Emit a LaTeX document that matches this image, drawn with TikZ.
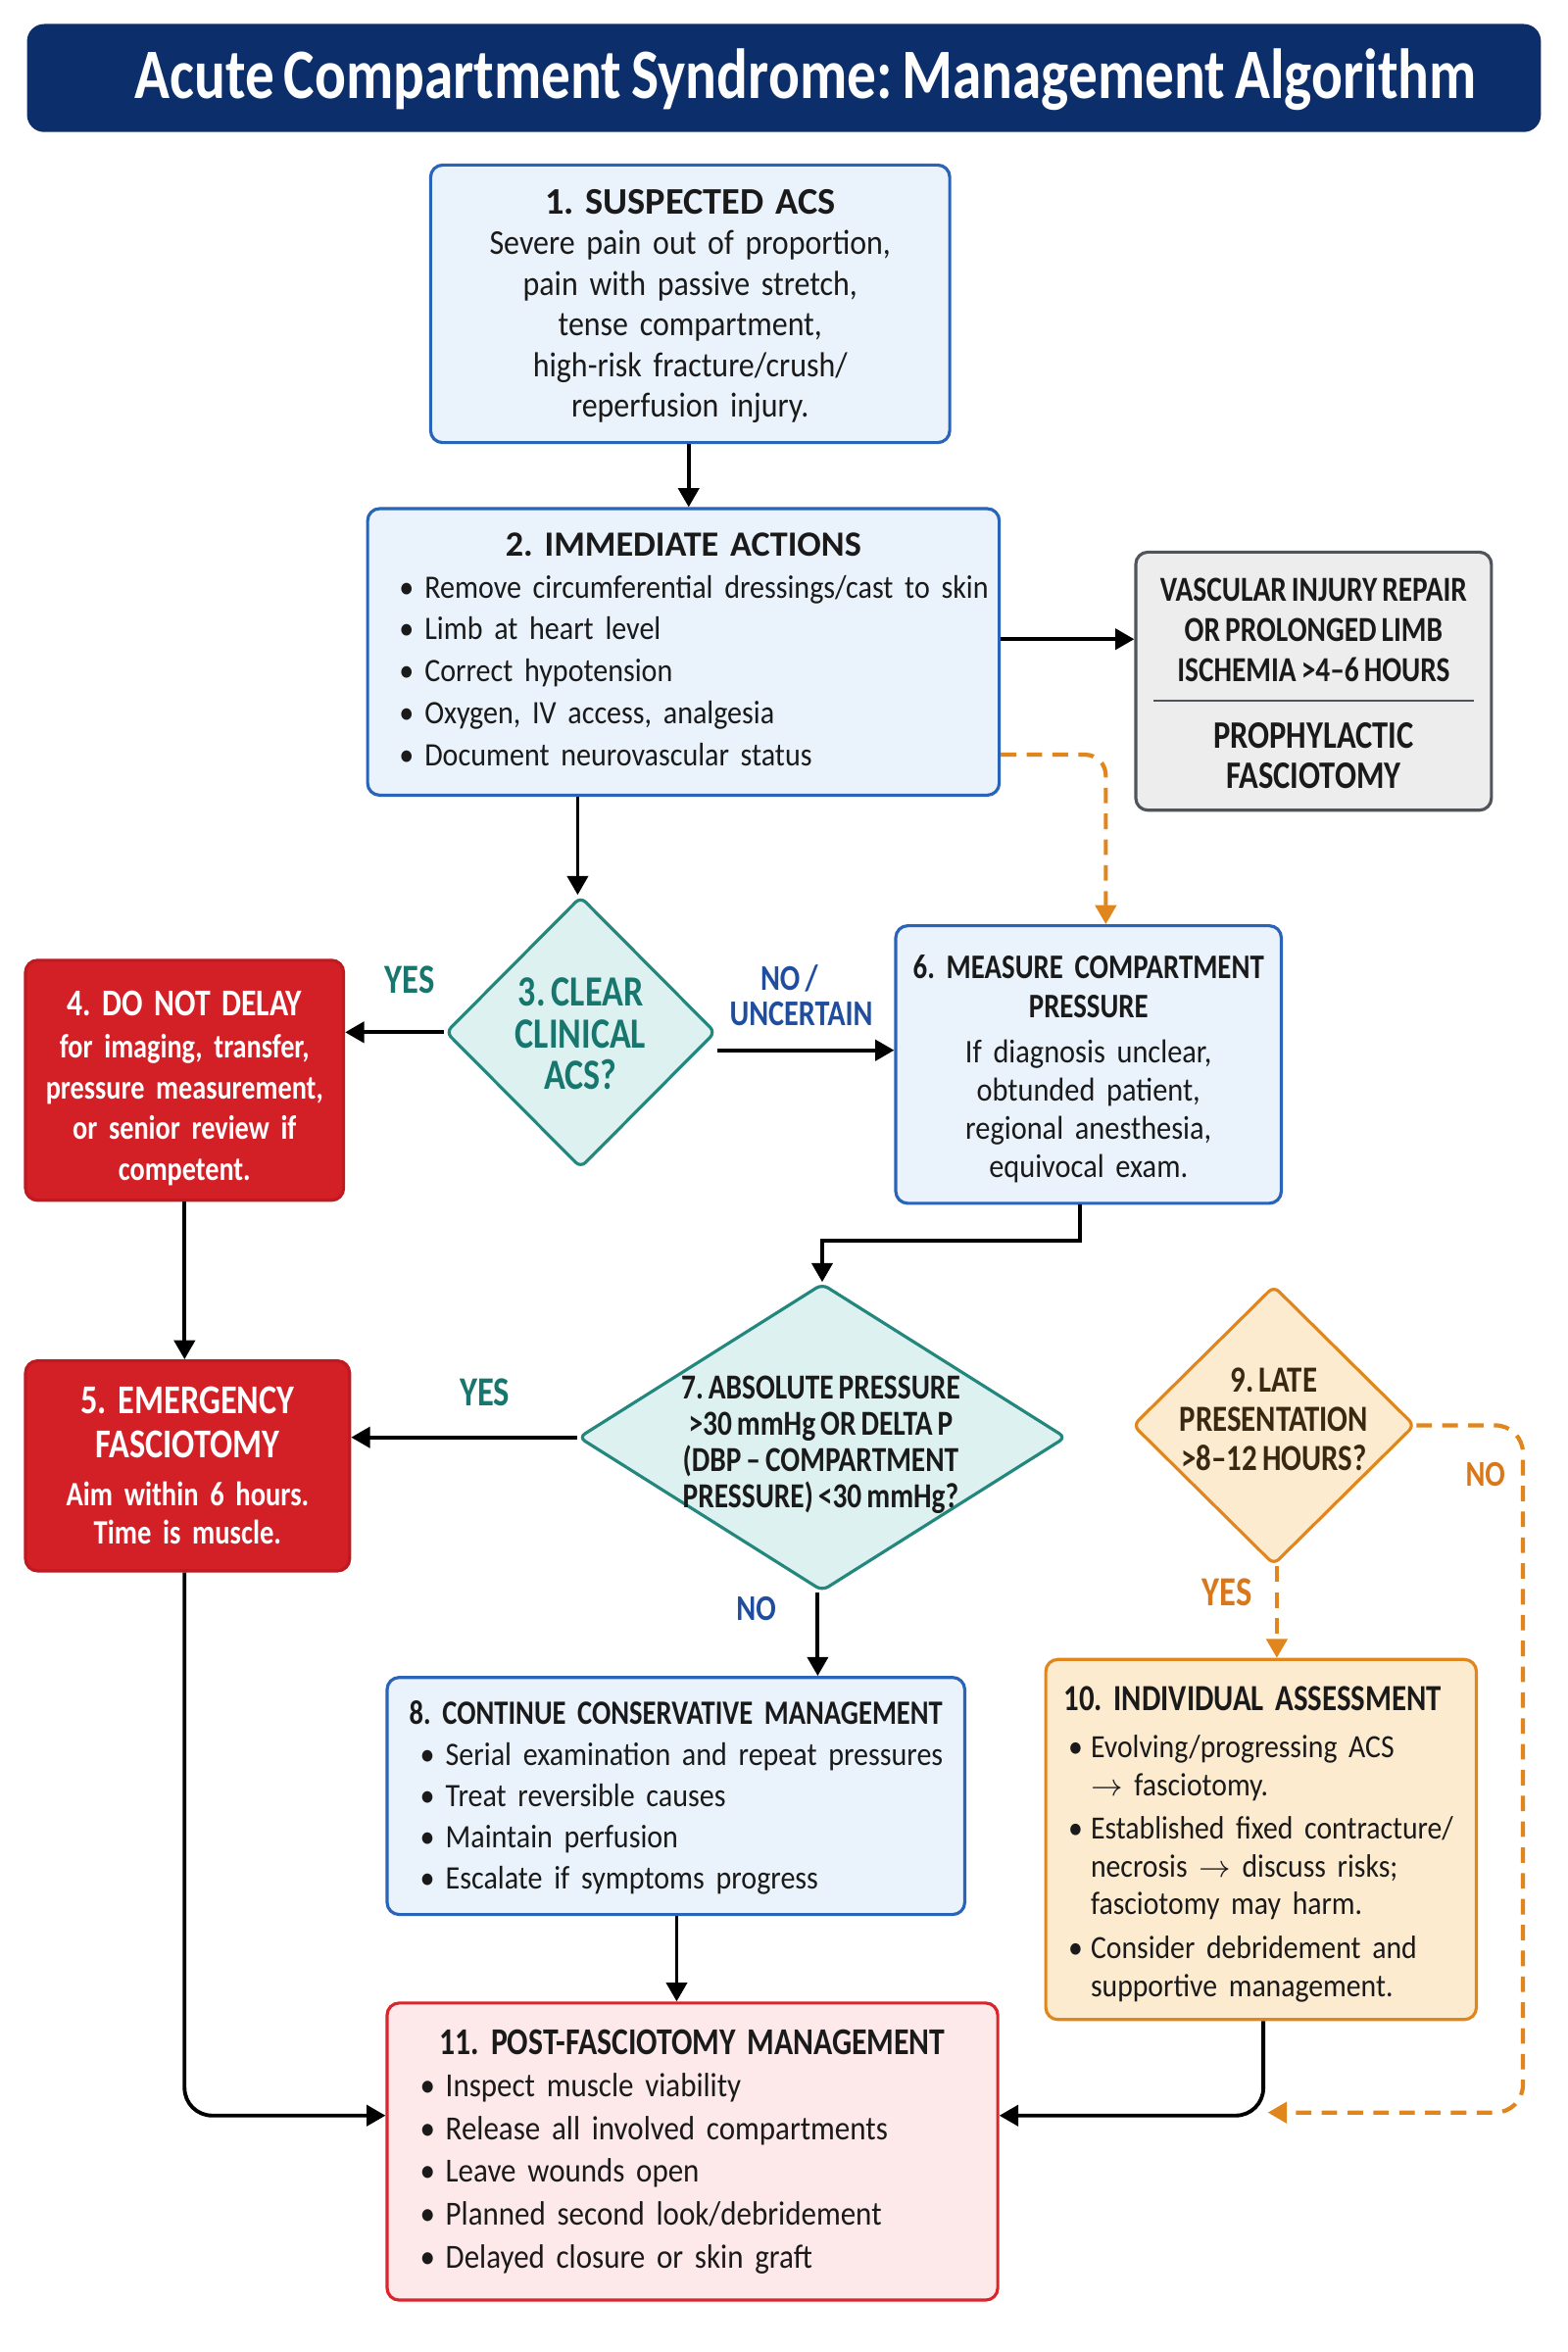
\documentclass[tikz,border=0pt]{standalone}
\usepackage{fontspec}
\setmainfont{Carlito}[FakeStretch=0.9, WordSpace=0.68]
\newfontfamily\hdfont{Carlito}[FakeStretch=0.82, WordSpace=0.75]
\newfontfamily\hdwfont{Carlito}[WordSpace=0.85]
\usetikzlibrary{arrows.meta,shapes.geometric,calc}
\newlength\dpx \setlength\dpx{0.4357pt}
\definecolor{navy}{HTML}{0C2F6B}
\definecolor{bluebd}{HTML}{2A64B8}
\definecolor{bluefill}{HTML}{EAF2FB}
\definecolor{tealbd}{HTML}{24877E}
\definecolor{tealfill}{HTML}{DDF2F0}
\definecolor{tealtxt}{HTML}{17766E}
\definecolor{redfill}{HTML}{D32027}
\definecolor{redbd}{HTML}{BE1A20}
\definecolor{grayfill}{HTML}{EDEDED}
\definecolor{graybd}{HTML}{50555C}
\definecolor{orbd}{HTML}{E0861C}
\definecolor{orfill}{HTML}{FDEBD0}
\definecolor{ortxt}{HTML}{D9781A}
\definecolor{pinkfill}{HTML}{FDE9E9}
\definecolor{pinkbd}{HTML}{D8262C}
\definecolor{lblblue}{HTML}{1F4E9E}
\definecolor{txt}{HTML}{1A1A1A}
\definecolor{browntxt}{HTML}{3A2812}
\newcommand\bodyf[2]{\normalfont\frenchspacing\fontsize{#1}{#2}\selectfont}
\newcommand\bodybf[2]{\hdfont\bfseries\frenchspacing\fontsize{#1}{#2}\selectfont}
\newcommand\headf[2]{\hdfont\bfseries\frenchspacing\fontsize{#1}{#2}\selectfont}
\newcommand\headw[2]{\hdwfont\bfseries\frenchspacing\fontsize{#1}{#2}\selectfont}
\newcommand\bul[2]{\leftline{\makebox[#1\dpx][l]{\textbullet}#2}}
\newcommand\ind[2]{\leftline{\hspace*{#1\dpx}#2}}
\AtBeginDocument{\frenchspacing}
\tikzset{
  box/.style={draw, rounded corners=3.5pt, line width=0.9pt, inner ysep=1pt, text=txt},
  bluebox/.style={box, draw=bluebd, fill=bluefill},
  redbox/.style={box, draw=redbd, fill=redfill, text=white},
  graybox/.style={box, draw=graybd, fill=grayfill},
  orbox/.style={box, draw=orbd, fill=orfill},
  pinkbox/.style={box, draw=pinkbd, fill=pinkfill},
  dia/.style={diamond, draw, line width=0.9pt, rounded corners=2pt, inner sep=0pt},
  lab/.style={font=\headf{10.5}{12}, inner sep=0pt},
  labyes/.style={font=\headf{12}{13}, inner sep=0pt},
  arr/.style={line width=1.1pt, draw=black, -{Triangle[length=5.5pt,width=6pt]}},
  darr/.style={line width=1.2pt, draw=orbd, dash pattern=on 4.5pt off 3pt, -{Triangle[length=5.5pt,width=6pt]}}
}
\begin{document}
\begin{tikzpicture}[x=0.4357pt, y=-0.4357pt]
\useasboundingbox (0,0) rectangle (1045,1567.6);
\fill[white] (0,0) rectangle (1045,1567.6);

% title
\node[fill=navy, rounded corners=5pt, minimum width=1009*\dpx, minimum height=72*\dpx, inner sep=0pt] (titlebar) at (522.5,52) {};
\node[text=white, font=\headf{20.6}{24}, inner sep=0pt] (title) at (537,53) {Acute Compartment Syndrome: Management Algorithm};

% 1
\node[bluebox, minimum width=346*\dpx, minimum height=185*\dpx, text width=326*\dpx, inner xsep=10*\dpx] (b1) at (460,202.5)
{\vbox{\vspace{1.5pt}\headw{10.9}{11.8}\centerline{1. SUSPECTED ACS}\bodyf{10.1}{11.8}\centerline{Severe pain out of proportion,}\centerline{pain with passive stretch,}\centerline{tense compartment,}\centerline{high-risk fracture/crush/}\centerline{reperfusion injury.}}};

% 2
\node[bluebox, minimum width=421*\dpx, minimum height=191*\dpx, text width=379*\dpx, inner xsep=21*\dpx] (b2) at (455.5,434.5)
{\vbox{\headw{10.3}{12.2}\centerline{2. IMMEDIATE ACTIONS}\bodyf{9.5}{12.2}\bul{17}{Remove circumferential dressings/cast to skin}\bul{17}{Limb at heart level}\bul{17}{Correct hypotension}\bul{17}{Oxygen, IV access, analgesia}\bul{17}{Document neurovascular status}\vspace{1.5pt}}};

% vascular
\node[graybox, minimum width=237*\dpx, minimum height=172*\dpx, inner sep=0pt] (vasc) at (875.5,454) {};
\node[font=\headf{10.2}{11.6}, align=center, text=txt, inner sep=0pt] (vasct) at (875.5,420) {VASCULAR INJURY REPAIR\\OR PROLONGED LIMB\\ISCHEMIA >4–6 HOURS};
\node[font=\headf{11.3}{11.8}, align=center, text=txt, inner sep=0pt] (vascb) at (875.5,503.5) {PROPHYLACTIC\\FASCIOTOMY};
\draw[graybd, line width=0.6pt] ($(vasc.west)+(13,13)$) -- ($(vasc.east)+(-13,13)$);

% 3
\node[dia, draw=tealbd, fill=tealfill, minimum width=180*\dpx, minimum height=181*\dpx] (d3) at (387,688) {};
\node[font=\headf{12.5}{12.2}, align=center, text=tealtxt, inner sep=0pt] (d3t) at (387,689) {3. CLEAR\\CLINICAL\\ACS?};

% 4
\node[redbox, minimum width=212*\dpx, minimum height=160*\dpx, text width=204*\dpx, inner xsep=4*\dpx] (b4) at (123,720)
{\vbox{\vspace{4.4pt}\headf{11}{12}\centerline{4. DO NOT DELAY}\bodybf{9.8}{11.8}\vspace{0.6pt}\centerline{for imaging, transfer,}\centerline{pressure measurement,}\centerline{or senior review if}\centerline{competent.}}};

% 6
\node[bluebox, minimum width=257*\dpx, minimum height=185*\dpx, text width=247*\dpx, inner xsep=5*\dpx] (b6) at (725.5,709.5)
{\vbox{\vspace{2.6pt}\headf{10}{11.3}\centerline{6. MEASURE COMPARTMENT}\centerline{PRESSURE}\bodyf{9.6}{11.1}\vspace{1.9pt}\centerline{If diagnosis unclear,}\centerline{obtunded patient,}\centerline{regional anesthesia,}\centerline{equivocal exam.}}};

% 5
\node[redbox, minimum width=216*\dpx, minimum height=140*\dpx, text width=208*\dpx, inner xsep=4*\dpx] (b5) at (125,977)
{\vbox{\headf{11.9}{12.6}\centerline{5. EMERGENCY}\centerline{FASCIOTOMY}\bodybf{9.9}{11.3}\vspace{2.6pt}\centerline{Aim within 6 hours.}\centerline{Time is muscle.}}};

% 7
\node[dia, draw=tealbd, fill=tealfill, minimum width=325*\dpx, minimum height=205*\dpx] (d7) at (548,958) {};
\node[font=\headf{10.2}{10.5}, align=center, text=txt, inner sep=0pt] (d7t) at (547,963) {7. ABSOLUTE PRESSURE\\>30 mmHg OR DELTA P\\(DBP – COMPARTMENT\\PRESSURE) <30 mmHg?};

% 9
\node[dia, draw=orbd, fill=orfill, minimum width=188*\dpx, minimum height=186*\dpx] (d9) at (849,950) {};
\node[font=\headf{10.7}{11.4}, align=center, text=browntxt, inner sep=0pt] (d9t) at (849,946) {9. LATE\\PRESENTATION\\>8–12 HOURS?};

% 8
\node[bluebox, minimum width=385*\dpx, minimum height=158*\dpx, text width=341*\dpx, inner xsep=22*\dpx] (b8) at (450.5,1197)
{\vbox{\vspace{1pt}\headf{9.9}{12}\centerline{8. CONTINUE CONSERVATIVE MANAGEMENT}\bodyf{9.5}{11.9}\bul{17}{Serial examination and repeat pressures}\bul{17}{Treat reversible causes}\bul{17}{Maintain perfusion}\bul{17}{Escalate if symptoms progress}}};

% 10
\node[orbox, minimum width=287*\dpx, minimum height=240*\dpx, text width=257*\dpx, inner xsep=15*\dpx] (b10) at (840.5,1226)
{\vbox{\vspace{2.6pt}\headf{10.7}{12}\leftline{\hspace*{-3\dpx}10. INDIVIDUAL ASSESSMENT}\bodyf{9.4}{10.9}\vspace{3pt}\bul{15}{Evolving/progressing ACS}\ind{15}{$\rightarrow$ fasciotomy.}\vspace{1.8pt}\bul{15}{Established fixed contracture/}\ind{15}{necrosis $\rightarrow$ discuss risks;}\ind{15}{fasciotomy may harm.}\vspace{2pt}\bul{15}{Consider debridement and}\ind{15}{supportive management.}}};

% 11
\node[pinkbox, minimum width=407*\dpx, minimum height=198*\dpx, text width=363*\dpx, inner xsep=22*\dpx] (b11) at (461.5,1434)
{\vbox{\headf{11}{13}\centerline{11. POST-FASCIOTOMY MANAGEMENT}\bodyf{9.8}{12.4}\bul{17}{Inspect muscle viability}\bul{17}{Release all involved compartments}\bul{17}{Leave wounds open}\bul{17}{Planned second look/debridement}\bul{17}{Delayed closure or skin graft}}};

% labels
\node[labyes, text=tealtxt] (yes3) at (273,653) {YES};
\node[lab, text=lblblue] (no3a) at (526,652) {NO /};
\node[lab, text=lblblue] (no3b) at (534,676) {UNCERTAIN};
\node[labyes, text=tealtxt] (yes7) at (323,928) {YES};
\node[lab, text=lblblue] (no7) at (504,1072) {NO};
\node[labyes, text=ortxt] (yes9) at (818,1061) {YES};
\node[lab, text=ortxt] (no9) at (990,983) {NO};

% connectors
\draw[arr] (b1.south -| 459,0) -- (b2.north -| 459,0);
\draw[arr] (b2.east |- 0,426) -- (vasc.west |- 0,426);
\draw[darr, rounded corners=6pt] (b2.east |- 0,503) -| (b6.north -| 737,0);
\draw[arr] (b2.south -| 385,0) -- (d3.north -| 385,0);
\draw[arr] (d3.west) -- (d3.west -| b4.east);
\draw[arr] (d3.east |- 0,700) -- (b6.west |- 0,700);
\draw[arr] (b4.south) -- (b4.south |- b5.north);
\draw[arr] (b6.south -| 720,0) -- (720,827) -| (d7.north);
\draw[arr] (d7.west) -- (d7.west -| b5.east);
\draw[arr] (d7.south -| 545,0) -- (b8.north -| 545,0);
\draw[arr] (b8.south -| 451,0) -- (b11.north -| 451,0);
\draw[arr, rounded corners=8pt] (b5.south -| 123,0) |- (b11.west |- 0,1410);
\draw[darr] (d9.south -| 851,0) -- (b10.north -| 851,0);
\draw[arr, rounded corners=8pt] (b10.south -| 842,0) |- (b11.east |- 0,1410);
\coordinate (noend) at (845,1408);
\draw[darr, rounded corners=8pt] (d9.east) -- (1015,950) |- (noend);
\end{tikzpicture}
\end{document}
